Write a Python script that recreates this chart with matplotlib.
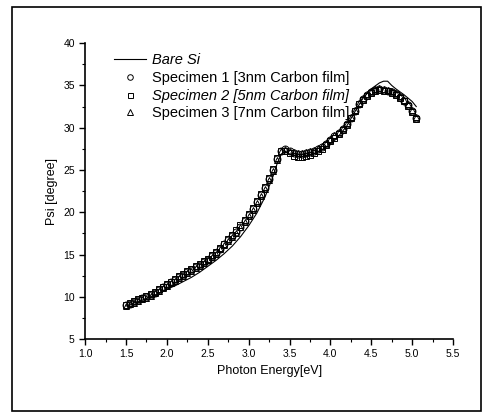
import numpy as np
import matplotlib
matplotlib.use("Agg")
import matplotlib.pyplot as plt
from matplotlib.patches import Rectangle
from matplotlib.ticker import MultipleLocator

plt.rcParams['font.family'] = ['Liberation Sans', 'DejaVu Sans']

# photon energy grid of the specimen measurements (eV)
energy = np.round(np.arange(1.50, 5.051, 0.05), 2)

spec1 = [9.0, 9.2, 9.4, 9.6, 9.8, 10.0, 10.2, 10.5, 10.8, 11.1,
         11.4, 11.7, 12.0, 12.3, 12.6, 12.9, 13.2, 13.5, 13.8, 14.1,
         14.4, 14.8, 15.2, 15.7, 16.2, 16.7, 17.2, 17.7, 18.3, 19.0,
         19.7, 20.4, 21.2, 22.0, 22.9, 23.9, 25.0, 26.3, 27.3, 27.5,
         27.2, 27.0, 26.9, 26.9, 27.0, 27.1, 27.3, 27.5, 27.7, 28.1,
         28.6, 29.0, 29.4, 29.9, 30.4, 31.2, 32.0, 32.8, 33.4, 33.9,
         34.2, 34.5, 34.6, 34.5, 34.4, 34.2, 34.0, 33.6, 33.2, 32.7,
         32.0, 31.2]
spec2 = [9.0, 9.3, 9.5, 9.7, 9.9, 10.1, 10.3, 10.6, 10.9, 11.2,
         11.5, 11.8, 12.1, 12.4, 12.7, 13.0, 13.3, 13.6, 13.9, 14.2,
         14.5, 14.9, 15.3, 15.8, 16.3, 16.8, 17.3, 17.9, 18.5, 19.1,
         19.8, 20.5, 21.3, 22.1, 23.0, 24.0, 25.1, 26.4, 27.2, 27.3,
         27.0, 26.7, 26.5, 26.5, 26.6, 26.8, 27.0, 27.2, 27.5, 27.9,
         28.4, 28.8, 29.2, 29.7, 30.3, 31.1, 32.0, 32.8, 33.3, 33.8,
         34.1, 34.4, 34.5, 34.4, 34.3, 34.1, 33.9, 33.5, 33.1, 32.6,
         31.8, 31.0]
spec3 = [8.9, 9.1, 9.3, 9.5, 9.7, 9.9, 10.1, 10.4, 10.7, 11.0,
         11.3, 11.6, 11.9, 12.2, 12.5, 12.8, 13.1, 13.4, 13.7, 14.0,
         14.3, 14.7, 15.1, 15.6, 16.1, 16.6, 17.1, 17.6, 18.2, 18.9,
         19.6, 20.3, 21.1, 21.9, 22.8, 23.8, 24.9, 26.2, 27.2, 27.5,
         27.3, 27.1, 27.0, 27.0, 27.1, 27.2, 27.4, 27.6, 27.8, 28.2,
         28.7, 29.1, 29.5, 30.0, 30.5, 31.3, 32.1, 32.9, 33.5, 34.0,
         34.3, 34.6, 34.7, 34.6, 34.5, 34.3, 34.1, 33.7, 33.3, 32.8,
         32.1, 31.3]

bare_e = [1.5, 1.6, 1.7, 1.8, 1.9, 2.0, 2.1, 2.2, 2.3, 2.4, 2.5, 2.6, 2.7, 2.8,
          2.9, 3.0, 3.1, 3.2, 3.3, 3.35, 3.4, 3.45, 3.5, 3.6, 3.7, 3.8, 3.9,
          4.0, 4.1, 4.2, 4.3, 4.4, 4.5, 4.6, 4.65, 4.7, 4.75, 4.8, 4.9, 5.0, 5.05]
bare_si = [8.9, 9.3, 9.6, 10.0, 10.4, 10.9, 11.3, 11.8, 12.3, 12.9, 13.6, 14.3,
           15.1, 16.0, 17.1, 18.4, 19.9, 21.8, 24.3, 25.8, 26.9, 27.2, 26.9,
           26.6, 26.6, 26.9, 27.4, 28.1, 29.0, 30.2, 31.9, 33.5, 34.6, 35.3,
           35.5, 35.5, 35.0, 34.6, 33.9, 33.1, 32.5]

fig = plt.figure(figsize=(4.84, 4.15), dpi=100)
ax = fig.add_axes([0.176, 0.183, 0.760, 0.713])

ax.plot(bare_e, bare_si, color='black', lw=0.8, label='Bare Si')
ax.plot(energy, spec1, 'o', ms=5, mfc='none', mec='black', mew=0.7,
        label='Specimen 1 [3nm Carbon film]')
ax.plot(energy, spec2, 's', ms=4.5, mfc='none', mec='black', mew=0.7,
        label='Specimen 2 [5nm Carbon film]')
ax.plot(energy, spec3, '^', ms=5, mfc='none', mec='black', mew=0.7,
        label='Specimen 3 [7nm Carbon film]')

ax.set_xlim(1.0, 5.5)
ax.set_ylim(5, 40)
ax.xaxis.set_major_locator(MultipleLocator(0.5))
ax.xaxis.set_minor_locator(MultipleLocator(0.25))
ax.yaxis.set_major_locator(MultipleLocator(5))
ax.yaxis.set_minor_locator(MultipleLocator(2.5))
ax.xaxis.set_major_formatter(matplotlib.ticker.FormatStrFormatter('%.1f'))
ax.tick_params(direction='out', labelsize=7.5, length=4, width=1)
ax.tick_params(which='minor', direction='out', length=2.5, width=0.8)
ax.spines['top'].set_visible(False)
ax.spines['right'].set_visible(False)
ax.spines['left'].set_linewidth(1.2)
ax.spines['bottom'].set_linewidth(1.2)

ax.set_xlabel('Photon Energy[eV]', fontsize=9)
ax.set_ylabel('Psi [degree]', fontsize=9)

leg = ax.legend(loc='upper left', bbox_to_anchor=(0.063, 0.985), frameon=False,
                fontsize=10.5, handlelength=2.2, handletextpad=0.4,
                labelspacing=0.25, borderaxespad=0, markerscale=0.8)
for i, t in enumerate(leg.get_texts()):
    if i in (0, 2):
        t.set_style('italic')

# outer frame around the whole panel
fig.patches.append(Rectangle((12 / 484, 1 - 411 / 415), 469 / 484, 404 / 415,
                             transform=fig.transFigure, fill=False,
                             edgecolor='black', lw=1.2))

fig.savefig('out.png', dpi=100)
